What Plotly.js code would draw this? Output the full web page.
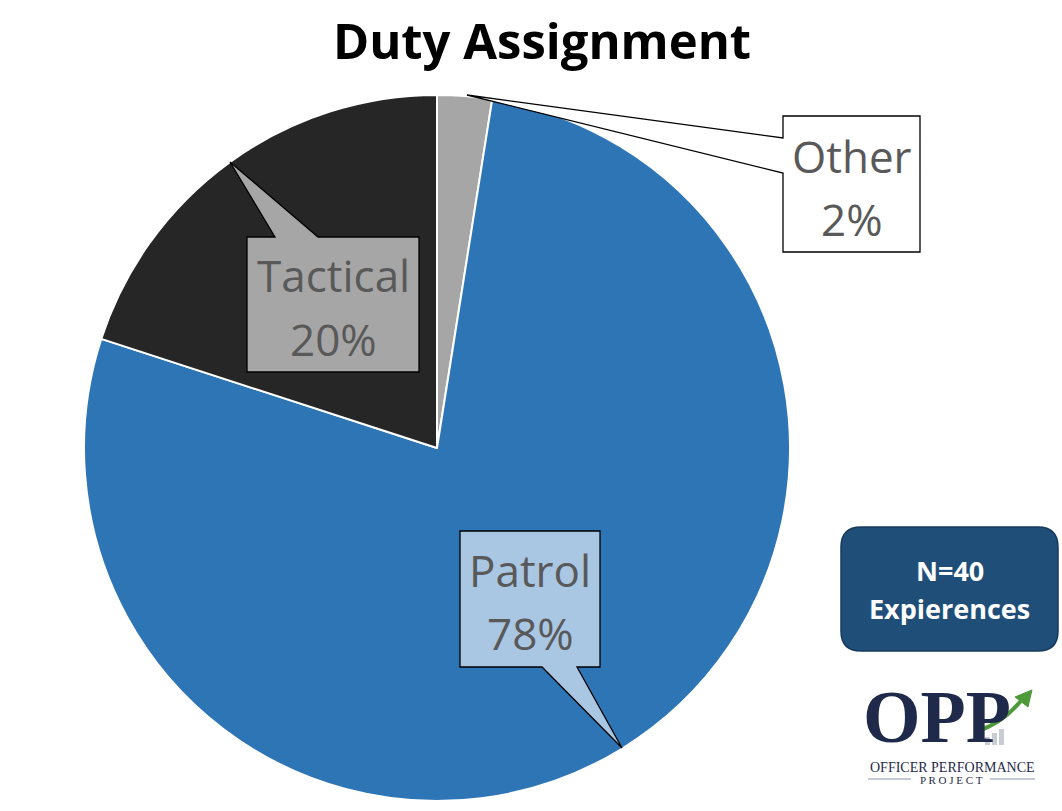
<!DOCTYPE html>
<html><head><meta charset="utf-8">
<script src="https://cdn.plot.ly/plotly-3.0.1.min.js"></script>
<style>html,body{margin:0;padding:0;background:#fff}#chart{width:1062px;height:811px}</style>
</head><body><div id="chart"></div>
<script>
const categories = ["Other", "Patrol", "Tactical"];
const counts = [1, 31, 8];
const pctLabels = ["2%", "78%", "20%"];
const sliceColors = ["#A6A6A6", "#2E75B6", "#262626"];
const chartTitle = "Duty Assignment";
const noteLines = ["N=40", "Expierences"];

const W = 1062, H = 811;
const X = p => p / W;
const Y = p => 1 - p / H;
function path(pts) {
  return "M" + pts.map(p => X(p[0]).toFixed(5) + "," + Y(p[1]).toFixed(5)).join(" L") + " Z";
}

const trace = {
  type: "pie",
  labels: categories,
  values: counts,
  sort: false,
  direction: "clockwise",
  rotation: 0,
  textinfo: "none",
  hoverinfo: "label+percent",
  marker: { colors: sliceColors, line: { color: "#ffffff", width: 2 } },
  domain: { x: [X(84), X(790)], y: [Y(801), Y(95)] },
  showlegend: false
};

// callout shapes: box + pointer
const callouts = [
  { idx: 0, fill: "#FFFFFF",
    pts: [[783,116],[920,116],[920,252],[783,252],[783,173],[467,95],[783,138]],
    cx: 851.5, cy1: 156, cy2: 219 },
  { idx: 1, fill: "#A9C6E3",
    pts: [[460,531],[600,531],[600,667],[577,667],[622,748],[542,667],[460,667]],
    cx: 530, cy1: 570, cy2: 633 },
  { idx: 2, fill: "#A6A6A6",
    pts: [[247,237],[275,237],[230,162],[318,237],[419,237],[419,372],[247,372]],
    cx: 333, cy1: 275, cy2: 339 }
];

const shapes = callouts.map(c => ({
  type: "path", xref: "paper", yref: "paper", path: path(c.pts),
  fillcolor: c.fill, line: { color: "#000000", width: 1.3 }, layer: "above"
}));

// N=40 rounded box
(function () {
  const x0 = 841, y0 = 527, x1 = 1058, y1 = 651, r = 20;
  const P = (a, b) => X(a).toFixed(5) + "," + Y(b).toFixed(5);
  const d = "M" + P(x0 + r, y0) + " L" + P(x1 - r, y0) +
    " Q" + P(x1, y0) + " " + P(x1, y0 + r) + " L" + P(x1, y1 - r) +
    " Q" + P(x1, y1) + " " + P(x1 - r, y1) + " L" + P(x0 + r, y1) +
    " Q" + P(x0, y1) + " " + P(x0, y1 - r) + " L" + P(x0, y0 + r) +
    " Q" + P(x0, y0) + " " + P(x0 + r, y0) + " Z";
  shapes.push({ type: "path", xref: "paper", yref: "paper", path: d,
    fillcolor: "#1F4E79", line: { color: "#173a5b", width: 1.5 }, layer: "above" });
})();

// logo pieces: green arrow, small bars, rule lines
shapes.push({ type: "path", xref: "paper", yref: "paper",
  path: "M" + X(978).toFixed(5) + "," + Y(731).toFixed(5) + " Q" + X(1005).toFixed(5) + "," + Y(722).toFixed(5) + " " + X(1024).toFixed(5) + "," + Y(697).toFixed(5),
  line: { color: "#4E9A3A", width: 4 }, layer: "above" });
shapes.push({ type: "path", xref: "paper", yref: "paper",
  path: path([[1032,690],[1015,697],[1028,707]]),
  fillcolor: "#4E9A3A", line: { color: "#4E9A3A", width: 1 }, layer: "above" });
[[985,737],[992,733],[999,729]].forEach((b) => {
  shapes.push({ type: "rect", xref: "paper", yref: "paper",
    x0: X(b[0]), x1: X(b[0] + 5), y0: Y(745), y1: Y(b[1]),
    fillcolor: "#C8CDD3", line: { width: 0 }, layer: "above" });
});
shapes.push({ type: "line", xref: "paper", yref: "paper", x0: X(868), x1: X(911), y0: Y(779), y1: Y(779), line: { color: "#8a93a6", width: 1 } });
shapes.push({ type: "line", xref: "paper", yref: "paper", x0: X(990), x1: X(1035), y0: Y(779), y1: Y(779), line: { color: "#8a93a6", width: 1 } });

const labelFont = { family: "Open Sans, Noto Sans, sans-serif", size: 44, color: "#595959" };
const annotations = [];
callouts.forEach(c => {
  annotations.push({ xref: "paper", yref: "paper", x: X(c.cx), y: Y(c.cy1), xanchor: "center", yanchor: "middle",
    text: categories[c.idx], showarrow: false, font: labelFont });
  annotations.push({ xref: "paper", yref: "paper", x: X(c.cx), y: Y(c.cy2), xanchor: "center", yanchor: "middle",
    text: pctLabels[c.idx], showarrow: false, font: labelFont });
});
const noteFont = { family: "Open Sans, Noto Sans, sans-serif", size: 27, color: "#FFFFFF" };
annotations.push({ xref: "paper", yref: "paper", x: X(949.5), y: Y(570), xanchor: "center", yanchor: "middle",
  text: "<b>" + noteLines[0] + "</b>", showarrow: false, font: noteFont });
annotations.push({ xref: "paper", yref: "paper", x: X(949.5), y: Y(608), xanchor: "center", yanchor: "middle",
  text: "<b>" + noteLines[1] + "</b>", showarrow: false, font: noteFont });
annotations.push({ xref: "paper", yref: "paper", x: X(937), y: Y(717), xanchor: "center", yanchor: "middle",
  text: "<b>OPP</b>", showarrow: false,
  font: { family: "Liberation Serif, DejaVu Serif, serif", size: 74, color: "#1F2A4A" } });
annotations.push({ xref: "paper", yref: "paper", x: X(952), y: Y(767), xanchor: "center", yanchor: "middle",
  text: "OFFICER PERFORMANCE", showarrow: false,
  font: { family: "Liberation Serif, DejaVu Serif, serif", size: 14, color: "#1F2A4A" } });
annotations.push({ xref: "paper", yref: "paper", x: X(951), y: Y(780), xanchor: "center", yanchor: "middle",
  text: "P R O J E C T", showarrow: false,
  font: { family: "Liberation Serif, DejaVu Serif, serif", size: 11, color: "#1F2A4A" } });

const layout = {
  width: W, height: H,
  margin: { l: 0, r: 0, t: 0, b: 0 },
  paper_bgcolor: "#FFFFFF",
  title: { text: "<b>" + chartTitle + "</b>", x: X(542), xanchor: "center", y: Y(42), yanchor: "middle",
    font: { family: "Open Sans, Noto Sans, sans-serif", size: 49, color: "#000000" } },
  shapes: shapes,
  annotations: annotations,
  showlegend: false
};

Plotly.newPlot("chart", [trace], layout, { displayModeBar: false, staticPlot: true });
</script></body></html>
